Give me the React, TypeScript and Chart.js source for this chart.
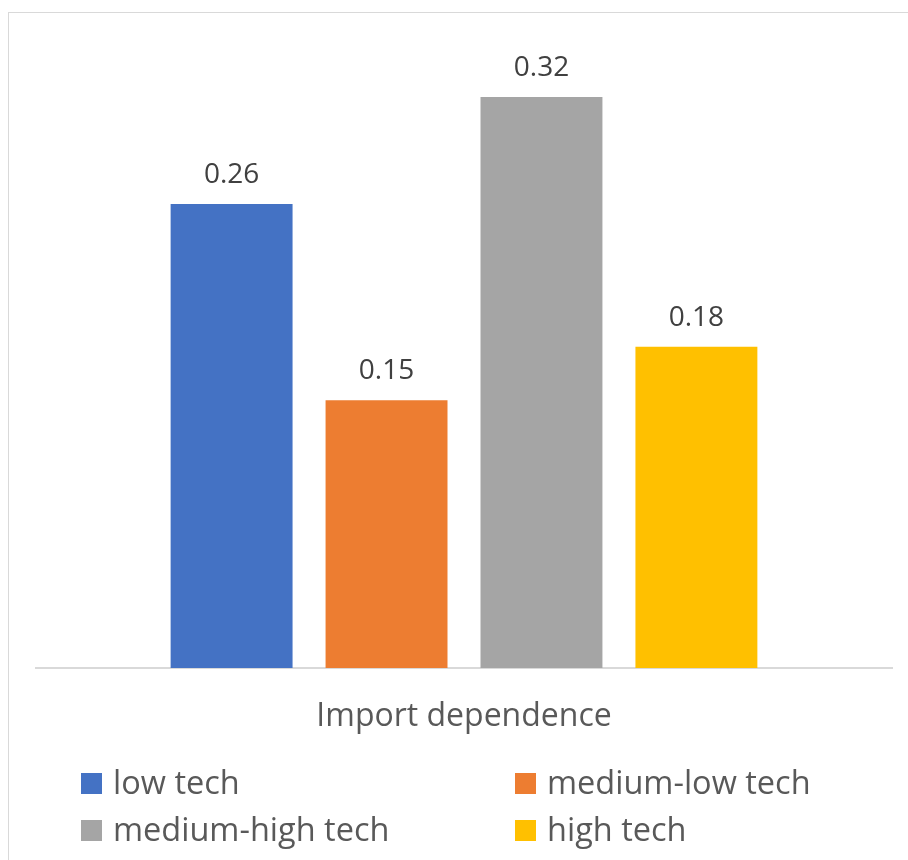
import React, { useEffect, useRef } from "react";
import { Chart, registerables } from "chart.js";

Chart.register(...registerables);

const categories = ["Import dependence"];
const seriesNames = ["low tech", "medium-low tech", "medium-high tech", "high tech"];
const seriesValues = [[0.26], [0.15], [0.32], [0.18]];
const seriesColors = ["#4472C4", "#ED7D31", "#A5A5A5", "#FFC000"];

const FONT = "'Open Sans', 'DejaVu Sans', sans-serif";

// Value labels drawn above each bar
const valueLabels = {
  id: "valueLabels",
  afterDatasetsDraw(chart: any) {
    const ctx = chart.ctx;
    ctx.save();
    ctx.font = `28px ${FONT}`;
    ctx.fillStyle = "#404040";
    ctx.textAlign = "center";
    ctx.textBaseline = "alphabetic";
    chart.data.datasets.forEach((ds: any, i: number) => {
      const meta = chart.getDatasetMeta(i);
      meta.data.forEach((bar: any, j: number) => {
        const v = ds.data[j];
        ctx.fillText(v.toFixed(2), bar.x, bar.y - 21);
      });
    });
    ctx.restore();
  },
};

// Two-column legend below the axis label
const gridLegend = {
  id: "gridLegend",
  afterDraw(chart: any) {
    const ctx = chart.ctx;
    const colX = [72, 506];
    const rowBase = [781, 828];
    const box = 21;
    ctx.save();
    ctx.font = `32.5px ${FONT}`;
    ctx.textBaseline = "alphabetic";
    ctx.textAlign = "left";
    chart.data.datasets.forEach((ds: any, i: number) => {
      const col = i % 2;
      const row = Math.floor(i / 2);
      const x = colX[col];
      const base = rowBase[row];
      ctx.fillStyle = ds.backgroundColor;
      ctx.fillRect(x, base - box, box, box);
      ctx.fillStyle = "#595959";
      ctx.fillText(ds.label, x + 32, base);
    });
    ctx.restore();
  },
};

export default function App() {
  const canvasRef = useRef<HTMLCanvasElement | null>(null);

  useEffect(() => {
    if (!canvasRef.current) return;
    const chart = new Chart(canvasRef.current, {
      type: "bar",
      data: {
        labels: categories,
        datasets: seriesNames.map((name, i) => ({
          label: name,
          data: seriesValues[i],
          backgroundColor: seriesColors[i],
          borderWidth: 0,
          categoryPercentage: 0.724,
          barPercentage: 0.787,
        })),
      },
      options: {
        animation: false,
        responsive: false,
        maintainAspectRatio: false,
        layout: { padding: { left: 27, right: 16, top: 30.5, bottom: 0 } },
        plugins: {
          legend: { display: false },
          tooltip: { enabled: false },
        },
        scales: {
          x: {
            grid: { display: false, drawTicks: false },
            border: { display: true, color: "#d9d9d9", width: 2 },
            ticks: {
              padding: 30,
              color: "#595959",
              font: { family: FONT, size: 32 },
            },
            afterFit(scale: any) {
              scale.height = 192;
            },
          },
          y: {
            display: false,
            min: 0,
            max: 0.35,
          },
        },
      },
      plugins: [valueLabels, gridLegend],
    });
    return () => chart.destroy();
  }, []);

  return (
    <div
      style={{
        position: "fixed",
        left: 8,
        top: 12,
        width: 899,
        height: 847,
        borderLeft: "1px solid #d9d9d9",
        borderTop: "1px solid #d9d9d9",
        background: "#fff",
      }}
    >
      <canvas ref={canvasRef} width={899} height={847} style={{ display: "block" }} />
    </div>
  );
}
